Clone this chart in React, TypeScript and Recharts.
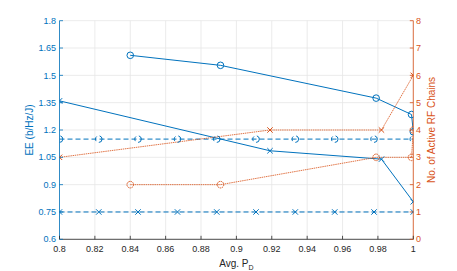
import React from 'react';
import { LineChart, Line, XAxis, YAxis, CartesianGrid, Label } from 'recharts';

// ---- data ----
const xTicks = [0.8, 0.82, 0.84, 0.86, 0.88, 0.9, 0.92, 0.94, 0.96, 0.98, 1];
const eeTicks = [0.6, 0.75, 0.9, 1.05, 1.2, 1.35, 1.5, 1.65, 1.8];
const eeTickLabels = ['0.6', '0.75', '0.9', '1.05', '1.2', '1.35', '1.5', '1.65', '1.8'];
const rfTicks = [0, 1, 2, 3, 4, 5, 6, 7, 8];

// equally spaced baseline schemes (dashed)
const xEqual = [0.8, 0.8222, 0.8444, 0.8667, 0.8889, 0.9111, 0.9333, 0.9556, 0.9778, 1.0];
const eeEqualCircle = [1.15, 1.15, 1.15, 1.15, 1.15, 1.15, 1.15, 1.15, 1.15, 1.15];
const eeEqualCross = [0.75, 0.75, 0.75, 0.75, 0.75, 0.75, 0.75, 0.75, 0.75, 0.75];

// circle schemes (solid EE / dotted RF)
const xCircle = [0.84, 0.891, 0.979, 0.999, 1.0];
const eeCircle = [1.61, 1.555, 1.375, 1.285, 1.19];
const rfCircle = [2, 2, 3, 3, 4];

// cross schemes (solid EE / dotted RF)
const xCross = [0.8, 0.919, 0.982, 1.0];
const eeCross = [1.36, 1.086, 1.04, 0.806];
const rfCross = [3, 4, 4, 6];

const BLUE = '#0072BD';
const ORANGE = '#D95319';
const DARK = '#262626';
const FONT = '"Liberation Sans", Arial, Helvetica, sans-serif';

const zip = (xs: number[], ys: number[]) => xs.map((x, i) => ({ x, y: ys[i] }));

const dEqualCircle = zip(xEqual, eeEqualCircle);
const dEqualCross = zip(xEqual, eeEqualCross);
const dEeCircle = zip(xCircle, eeCircle);
const dRfCircle = zip(xCircle, rfCircle);
const dEeCross = zip(xCross, eeCross);
const dRfCross = zip(xCross, rfCross);

const circleDot = (color: string) => ({ r: 3.3, fill: 'none', stroke: color, strokeWidth: 1 });
const crossDot = (color: string) => (p: any) => {
  const { cx, cy, index } = p;
  if (cx == null || cy == null) return <g key={index} />;
  const s = 2.7;
  return (
    <path
      key={index}
      d={`M${cx - s},${cy - s}L${cx + s},${cy + s}M${cx - s},${cy + s}L${cx + s},${cy - s}`}
      stroke={color}
      strokeWidth={1}
      fill="none"
    />
  );
};

const LeftTick = (p: any) => {
  const i = eeTicks.indexOf(p.payload.value);
  return (
    <g>
      <line x1={p.x} y1={p.y} x2={p.x + 3.5} y2={p.y} stroke={BLUE} strokeWidth={0.8} />
      <text x={p.x - 3.5} y={p.y} dy="0.35em" textAnchor="end" fill={BLUE} fontSize={9} fontFamily={FONT}>
        {i >= 0 ? eeTickLabels[i] : String(p.payload.value)}
      </text>
    </g>
  );
};

const RightTick = (p: any) => (
  <g>
    <line x1={p.x} y1={p.y} x2={p.x - 3.5} y2={p.y} stroke={ORANGE} strokeWidth={0.8} />
    <text x={p.x + 2.8} y={p.y} dy="0.35em" textAnchor="start" fill={ORANGE} fontSize={9} fontFamily={FONT}>
      {String(p.payload.value)}
    </text>
  </g>
);

const BottomTick = (p: any) => (
  <g>
    <line x1={p.x} y1={p.y} x2={p.x} y2={p.y - 3.5} stroke={DARK} strokeWidth={0.8} />
    <text x={p.x} y={p.y + 13} textAnchor="middle" fill={DARK} fontSize={9} fontFamily={FONT}>
      {String(p.payload.value)}
    </text>
  </g>
);

const TopTick = (p: any) => (
  <g>
    <line x1={p.x} y1={p.y} x2={p.x} y2={p.y + 3.5} stroke={DARK} strokeWidth={0.8} />
  </g>
);

const XLabel = (props: any) => {
  const vb = props.viewBox || {};
  return (
    <text x={vb.x + vb.width / 2} y={vb.y + 27.5} textAnchor="middle" fill={DARK} fontSize={10} fontFamily={FONT}>
      Avg. P
      <tspan fontSize={7} dy={3}>D</tspan>
    </text>
  );
};

export default function App() {
  return (
    <div style={{ position: 'fixed', left: 0, top: 0, background: '#fff' }}>
      <LineChart width={457} height={271} margin={{ top: 20.7, right: 0, bottom: 0, left: 0 }}>
        <CartesianGrid xAxisId="bottom" yAxisId="ee" stroke="#e6e6e6" strokeWidth={0.8} />
        <XAxis
          xAxisId="bottom"
          type="number"
          dataKey="x"
          domain={[0.8, 1]}
          ticks={xTicks}
          interval={0}
          height={31.7}
          tickSize={0}
          tickMargin={0}
          tickLine={false}
          axisLine={{ stroke: DARK, strokeWidth: 0.8 }}
          tick={<BottomTick />}
          allowDataOverflow
        >
          <Label content={<XLabel />} />
        </XAxis>
        <XAxis
          xAxisId="top"
          orientation="top"
          type="number"
          dataKey="x"
          domain={[0.8, 1]}
          ticks={xTicks}
          interval={0}
          height={0}
          tickSize={0}
          tickMargin={0}
          tickLine={false}
          axisLine={{ stroke: DARK, strokeWidth: 0.8 }}
          tick={<TopTick />}
          allowDataOverflow
        />
        <YAxis
          yAxisId="ee"
          orientation="left"
          type="number"
          domain={[0.6, 1.8]}
          ticks={eeTicks}
          interval={0}
          width={59.5}
          tickSize={0}
          tickMargin={0}
          tickLine={false}
          axisLine={{ stroke: BLUE, strokeWidth: 0.8 }}
          tick={<LeftTick />}
          allowDataOverflow
        >
          <Label
            value="EE (b/Hz/J)"
            angle={-90}
            position="center"
            dx={-0.5}
            fill={BLUE}
            fontSize={10}
            fontFamily={FONT}
          />
        </YAxis>
        <YAxis
          yAxisId="rf"
          orientation="right"
          type="number"
          domain={[0, 8]}
          ticks={rfTicks}
          interval={0}
          width={43.7}
          tickSize={0}
          tickMargin={0}
          tickLine={false}
          axisLine={{ stroke: ORANGE, strokeWidth: 0.8 }}
          tick={<RightTick />}
          allowDataOverflow
        >
          <Label
            value="No. of Active RF Chains"
            angle={-90}
            position="center"
            dx={-3.5}
            fill={ORANGE}
            fontSize={10}
            fontFamily={FONT}
          />
        </YAxis>

        <Line
          xAxisId="bottom"
          yAxisId="ee"
          data={dEqualCircle}
          dataKey="y"
          stroke={BLUE}
          strokeWidth={1}
          strokeDasharray="5 3"
          dot={circleDot(BLUE)}
          activeDot={false}
          isAnimationActive={false}
        />
        <Line
          xAxisId="bottom"
          yAxisId="ee"
          data={dEqualCross}
          dataKey="y"
          stroke={BLUE}
          strokeWidth={1}
          strokeDasharray="5 3"
          dot={crossDot(BLUE)}
          activeDot={false}
          isAnimationActive={false}
        />
        <Line
          xAxisId="bottom"
          yAxisId="ee"
          data={dEeCircle}
          dataKey="y"
          stroke={BLUE}
          strokeWidth={1}
          dot={circleDot(BLUE)}
          activeDot={false}
          isAnimationActive={false}
        />
        <Line
          xAxisId="bottom"
          yAxisId="ee"
          data={dEeCross}
          dataKey="y"
          stroke={BLUE}
          strokeWidth={1}
          dot={crossDot(BLUE)}
          activeDot={false}
          isAnimationActive={false}
        />
        <Line
          xAxisId="bottom"
          yAxisId="rf"
          data={dRfCircle}
          dataKey="y"
          stroke={ORANGE}
          strokeWidth={0.8}
          strokeDasharray="1.5 0.7"
          dot={circleDot(ORANGE)}
          activeDot={false}
          isAnimationActive={false}
        />
        <Line
          xAxisId="bottom"
          yAxisId="rf"
          data={dRfCross}
          dataKey="y"
          stroke={ORANGE}
          strokeWidth={0.8}
          strokeDasharray="1.5 0.7"
          dot={crossDot(ORANGE)}
          activeDot={false}
          isAnimationActive={false}
        />
      </LineChart>
    </div>
  );
}
